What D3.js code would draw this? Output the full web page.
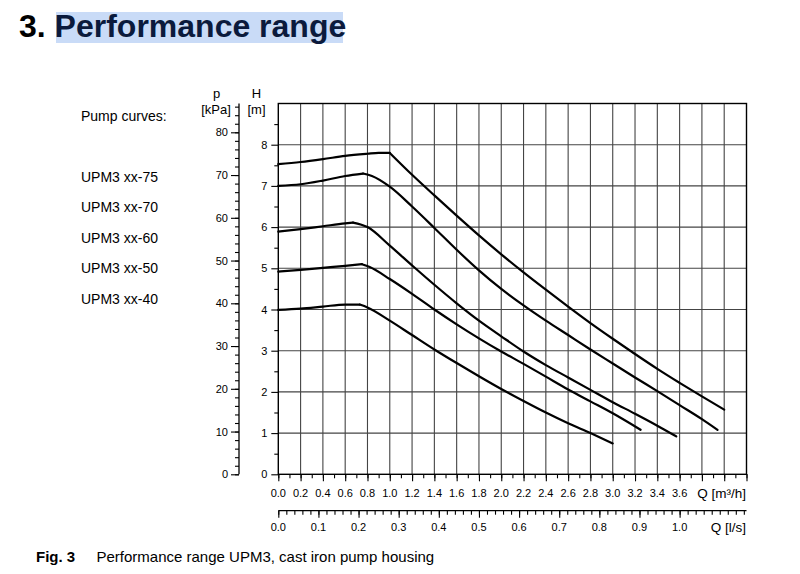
<!DOCTYPE html>
<html>
<head>
<meta charset="utf-8">
<script src="https://cdn.jsdelivr.net/npm/d3@7"></script>
<style>
  body { margin: 0; background: #fff; }
  svg { display: block; font-family: "Liberation Sans", Arial, sans-serif; }
</style>
</head>
<body>
<svg width="800" height="574"></svg>
<script>
// pump curves, [Q m3/h, H m]
const curve75 = [[0, 7.53], [0.2, 7.58], [0.4, 7.65], [0.6, 7.73], [0.8, 7.78], [0.9, 7.8], [1.0, 7.8],
  [1.2, 7.27], [1.4, 6.77], [1.6, 6.28], [1.8, 5.8], [2.0, 5.34], [2.2, 4.9], [2.4, 4.48],
  [2.6, 4.07], [2.8, 3.67], [3.0, 3.29], [3.2, 2.92], [3.4, 2.56], [3.6, 2.22], [3.8, 1.89], [4.0, 1.57]];
const curve70 = [[0, 7.0], [0.2, 7.04], [0.4, 7.13], [0.6, 7.24], [0.76, 7.3], [0.84, 7.24], [1.0, 6.98],
  [1.2, 6.5], [1.4, 5.98], [1.6, 5.45], [1.8, 4.95], [2.0, 4.5], [2.2, 4.1], [2.4, 3.73],
  [2.6, 3.38], [2.8, 3.03], [3.0, 2.69], [3.2, 2.35], [3.4, 2.02], [3.6, 1.68], [3.8, 1.34], [3.94, 1.08]];
const curve60 = [[0, 5.89], [0.2, 5.95], [0.4, 6.02], [0.6, 6.09], [0.67, 6.11], [0.8, 6.0], [1.0, 5.55],
  [1.2, 5.07], [1.4, 4.6], [1.6, 4.15], [1.8, 3.73], [2.0, 3.35], [2.2, 2.98], [2.4, 2.65],
  [2.6, 2.35], [2.8, 2.05], [3.0, 1.75], [3.2, 1.47], [3.4, 1.18], [3.57, 0.92]];
const curve50 = [[0, 4.92], [0.2, 4.96], [0.4, 5.01], [0.6, 5.06], [0.75, 5.1], [0.82, 5.03], [1.0, 4.74],
  [1.2, 4.38], [1.4, 4.0], [1.6, 3.64], [1.8, 3.3], [2.0, 2.98], [2.2, 2.68], [2.4, 2.37],
  [2.6, 2.06], [2.8, 1.77], [3.0, 1.48], [3.25, 1.08]];
const curve40 = [[0, 3.99], [0.2, 4.02], [0.4, 4.07], [0.6, 4.12], [0.73, 4.12], [0.8, 4.05], [1.0, 3.73],
  [1.2, 3.38], [1.4, 3.03], [1.6, 2.7], [1.8, 2.38], [2.0, 2.07], [2.2, 1.78], [2.4, 1.5],
  [2.6, 1.24], [2.8, 1.0], [3.0, 0.75]];

const curveNames = ['UPM3 xx-75', 'UPM3 xx-70', 'UPM3 xx-60', 'UPM3 xx-50', 'UPM3 xx-40'];
const curves = [curve75, curve70, curve60, curve50, curve40];

const hTicks = [0, 1, 2, 3, 4, 5, 6, 7, 8];
const pTicks = [0, 10, 20, 30, 40, 50, 60, 70, 80];
const qTicks = [0.0, 0.2, 0.4, 0.6, 0.8, 1.0, 1.2, 1.4, 1.6, 1.8, 2.0, 2.2, 2.4, 2.6, 2.8, 3.0, 3.2, 3.4, 3.6];
const lsTicks = [0.0, 0.1, 0.2, 0.3, 0.4, 0.5, 0.6, 0.7, 0.8, 0.9, 1.0];

const svg = d3.select('svg');

// title
svg.append('rect')
  .attr('x', 56).attr('y', 12).attr('width', 287).attr('height', 31)
  .attr('fill', '#c9dbf7');
const title = svg.append('text')
  .attr('x', 19).attr('y', 37)
  .attr('font-size', 32).attr('font-weight', 'bold');
title.append('tspan').attr('fill', '#000').text('3. ');
title.append('tspan').attr('fill', '#0b1a3c').text('Performance range');

// scales
const x = d3.scaleLinear().domain([0, 4.2]).range([278.3, 746.5]);
const y = d3.scaleLinear().domain([0, 9]).range([474.3, 103.5]);
const p = d3.scaleLinear().domain([0, 80]).range([474.3, 132.3]);
const ls = d3.scaleLinear().domain([0, 4.2 / 3.6]).range([278.3, 746.5]);

// grid
const grid = svg.append('g').attr('stroke', '#444').attr('stroke-width', 1.1);
grid.selectAll('.gv')
  .data(d3.range(1, 21).map((i) => i * 0.2))
  .enter().append('line')
  .attr('x1', (d) => x(d)).attr('x2', (d) => x(d))
  .attr('y1', y(0)).attr('y2', y(9));
grid.selectAll('.gh')
  .data(d3.range(1, 9))
  .enter().append('line')
  .attr('x1', x(0)).attr('x2', x(4.2))
  .attr('y1', (d) => y(d)).attr('y2', (d) => y(d));

svg.append('rect')
  .attr('x', x(0)).attr('y', y(9))
  .attr('width', x(4.2) - x(0)).attr('height', y(0) - y(9))
  .attr('fill', 'none').attr('stroke', '#000').attr('stroke-width', 1.4);

// curves: rising part and falling part meet at the last highest point
const line = d3.line()
  .x((d) => x(d[0]))
  .y((d) => y(d[1]))
  .curve(d3.curveMonotoneX);

const splitAtTop = (pts) => {
  const top = d3.max(pts, (d) => d[1]);
  let k = 0;
  pts.forEach((d, i) => { if (d[1] === top) k = i; });
  return [pts.slice(0, k + 1), pts.slice(k)];
};

svg.append('g').selectAll('path')
  .data(curves.flatMap(splitAtTop)).enter()
  .append('path')
  .attr('d', line)
  .attr('fill', 'none')
  .attr('stroke', '#000')
  .attr('stroke-width', 2.2)
  .attr('stroke-linecap', 'round');

const styleAxis = (g) => {
  g.select('.domain').attr('stroke', '#000').attr('stroke-width', 1.3);
  g.selectAll('.tick line').attr('stroke', '#000').attr('stroke-width', 1.1);
  g.selectAll('.tick text').attr('font-size', 11).attr('fill', '#000')
    .attr('font-family', '"Liberation Sans", Arial, sans-serif');
};

// H axis
svg.append('g')
  .attr('transform', `translate(${x(0)},0)`)
  .call(d3.axisLeft(y).tickValues(d3.range(0.5, 9, 1)).tickSize(4).tickFormat(''))
  .call(styleAxis)
  .call((g) => g.select('.domain').remove());
svg.append('g')
  .attr('transform', `translate(${x(0)},0)`)
  .call(d3.axisLeft(y).tickValues(hTicks).tickSize(7).tickPadding(4).tickFormat(d3.format('d')))
  .call(styleAxis)
  .call((g) => g.select('.domain').remove());

// p axis
const pAxisX = 239;
svg.append('line')
  .attr('x1', pAxisX).attr('x2', pAxisX)
  .attr('y1', y(9)).attr('y2', p(0))
  .attr('stroke', '#000').attr('stroke-width', 1.3);
svg.append('g')
  .attr('transform', `translate(${pAxisX},0)`)
  .call(d3.axisLeft(p).tickValues(d3.range(0, 87, 2)).tickSize(4).tickFormat(''))
  .call(styleAxis)
  .call((g) => g.select('.domain').remove());
svg.append('g')
  .attr('transform', `translate(${pAxisX},0)`)
  .call(d3.axisLeft(p).tickValues(pTicks).tickSize(8).tickPadding(3).tickFormat(d3.format('d')))
  .call(styleAxis)
  .call((g) => g.select('.domain').remove());

// Q m3/h axis
svg.append('g')
  .attr('transform', `translate(0,${y(0)})`)
  .call(d3.axisBottom(x).tickValues(d3.range(0, 4.25, 0.1)).tickSize(4).tickFormat(''))
  .call(styleAxis)
  .call((g) => g.select('.domain').remove());
svg.append('g')
  .attr('transform', `translate(0,${y(0)})`)
  .call(d3.axisBottom(x).tickValues(d3.range(0, 4.25, 0.2)).tickSize(7).tickFormat(''))
  .call(styleAxis)
  .call((g) => g.select('.domain').remove());
svg.append('g').selectAll('text')
  .data(qTicks).enter()
  .append('text')
  .attr('x', (d) => x(d)).attr('y', 497)
  .attr('text-anchor', 'middle').attr('font-size', 11)
  .text((d) => d.toFixed(1));

// Q l/s axis
const lsY = 510.7;
svg.append('g')
  .attr('transform', `translate(0,${lsY})`)
  .call(d3.axisBottom(ls).tickValues(d3.range(0, 1.17, 0.02)).tickSize(4).tickFormat(''))
  .call(styleAxis)
  .call((g) => g.select('.domain').attr('d', `M${ls(0)},0H${x(4.2)}`));
svg.append('g')
  .attr('transform', `translate(0,${lsY})`)
  .call(d3.axisBottom(ls).tickValues(lsTicks).tickSize(7).tickFormat(''))
  .call(styleAxis)
  .call((g) => g.select('.domain').remove());
svg.append('g').selectAll('text')
  .data(lsTicks).enter()
  .append('text')
  .attr('x', (d) => ls(d)).attr('y', 531)
  .attr('text-anchor', 'middle').attr('font-size', 11)
  .text((d) => d.toFixed(1));

// axis titles
const axisTitles = [
  { t: 'p', x: 216.5, y: 98, s: 13, a: 'middle' },
  { t: '[kPa]', x: 216, y: 113.5, s: 13, a: 'middle' },
  { t: 'H', x: 256.5, y: 98, s: 13, a: 'middle' },
  { t: '[m]', x: 256.5, y: 113.5, s: 13, a: 'middle' },
  { t: 'Q [m³/h]', x: 746, y: 498, s: 13.5, a: 'end' },
  { t: 'Q [l/s]', x: 746, y: 532, s: 13.5, a: 'end' },
];
svg.append('g').selectAll('text')
  .data(axisTitles).enter()
  .append('text')
  .attr('x', (d) => d.x).attr('y', (d) => d.y)
  .attr('text-anchor', (d) => d.a)
  .attr('font-size', (d) => d.s)
  .text((d) => d.t);

// legend text
svg.append('text')
  .attr('x', 81).attr('y', 121)
  .attr('font-size', 14)
  .text('Pump curves:');
svg.append('g').selectAll('text')
  .data(curveNames).enter()
  .append('text')
  .attr('x', 81).attr('y', (d, i) => 181.5 + i * 30.6)
  .attr('font-size', 14)
  .text((d) => d);

// caption
const cap = svg.append('text').attr('x', 36).attr('y', 562).attr('font-size', 15);
cap.append('tspan').attr('font-weight', 'bold').text('Fig. 3');
cap.append('tspan').attr('x', 96.5).text('Performance range UPM3, cast iron pump housing');
</script>
</body>
</html>
